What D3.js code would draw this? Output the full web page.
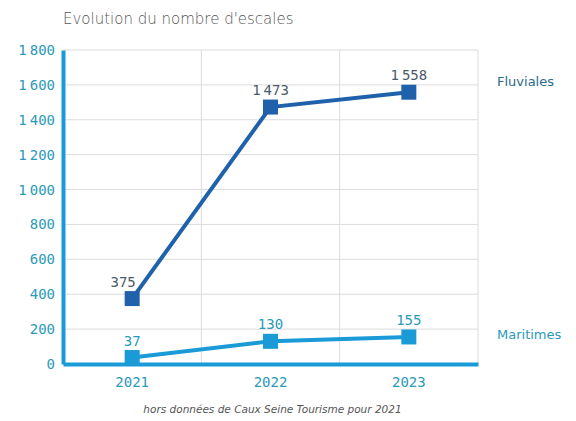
<!DOCTYPE html>
<html>
<head>
<meta charset="utf-8">
<script src="https://cdn.jsdelivr.net/npm/d3@7"></script>
<style>
  body { margin: 0; background: #fff; }
  text { font-family: "DejaVu Sans Mono", monospace; }
</style>
</head>
<body>
<div id="chart"></div>
<script>
// data
let years = ["2021", "2022", "2023"];
let fluviales = [375, 1473, 1558];
let maritimes = [37, 130, 155];
let yTicks = [0, 200, 400, 600, 800, 1000, 1200, 1400, 1600, 1800];
let seriesNames = ["Fluviales", "Maritimes"];

let width = 576, height = 421;
let margin = {top: 50, right: 98, bottom: 57, left: 63};

// french number with a narrow gap between thousands
function setNum(sel) {
  sel.each(function(d) {
    let t = d3.select(this);
    let v = typeof d == "object" ? d.value : d;
    t.text(null);
    if (v >= 1000) {
      t.append("tspan").text(Math.floor(v / 1000));
      t.append("tspan").attr("dx", 3).text(String(v % 1000).padStart(3, "0"));
    } else {
      t.text(v);
    }
  });
}

let svg = d3.select("#chart").append("svg")
  .attr("width", width).attr("height", height);

let x = d3.scaleBand().domain(years).range([margin.left, width - margin.right]);
let y = d3.scaleLinear().domain([0, 1800]).range([height - margin.bottom, margin.top]);

// gridlines
svg.append("g").selectAll("line").data(yTicks.slice(1)).enter().append("line")
  .attr("x1", margin.left).attr("x2", width - margin.right)
  .attr("y1", d => y(d)).attr("y2", d => y(d))
  .attr("stroke", "#dcdcdc").attr("stroke-width", 1);
svg.append("g").selectAll("line").data(years.slice(1).concat(["end"])).enter().append("line")
  .attr("x1", d => d == "end" ? width - margin.right : x(d))
  .attr("x2", d => d == "end" ? width - margin.right : x(d))
  .attr("y1", margin.top).attr("y2", height - margin.bottom)
  .attr("stroke", "#dcdcdc").attr("stroke-width", 1);

// axes
let yAxis = svg.append("g").attr("transform", "translate(" + margin.left + ",0)")
  .call(d3.axisLeft(y).tickValues(yTicks).tickSize(0).tickPadding(8));
yAxis.select(".domain").attr("stroke", "#1a9ad6").attr("stroke-width", 4);
yAxis.selectAll("text").attr("fill", "#2a9ab8").style("font-size", "14px").call(setNum);

let xAxis = svg.append("g").attr("transform", "translate(0," + (height - margin.bottom) + ")")
  .call(d3.axisBottom(x).tickSize(0).tickPadding(13));
xAxis.select(".domain").attr("stroke", "#1a9ad6").attr("stroke-width", 4);
xAxis.selectAll("text").attr("fill", "#2a9ab8").style("font-size", "14px");

// series
let series = [
  {name: seriesNames[0], values: fluviales, color: "#1f62ab", label: "#4a5a6a", legend: "#2a6a8a", dy: -6},
  {name: seriesNames[1], values: maritimes, color: "#1a9ad6", label: "#2a9ab8", legend: "#2a9ab8", dy: 2}
];
let cx = d => x(d) + x.bandwidth() / 2;
let line = d3.line().x(d => cx(d.year)).y(d => y(d.value));
let ms = 15;

series.forEach(s => {
  let pts = years.map((yr, i) => ({year: yr, value: s.values[i]}));
  svg.append("path").datum(pts).attr("d", line)
    .attr("fill", "none").attr("stroke", s.color).attr("stroke-width", 4);
  svg.append("g").selectAll("rect").data(pts).enter().append("rect")
    .attr("x", d => cx(d.year) - ms / 2).attr("y", d => y(d.value) - ms / 2)
    .attr("width", ms).attr("height", ms).attr("fill", s.color);
  svg.append("g").selectAll("text").data(pts).enter().append("text")
    .attr("x", d => cx(d.year) - (d.value == 375 ? 9 : 0)).attr("y", d => y(d.value) - 12)
    .attr("text-anchor", "middle").attr("fill", s.label)
    .style("font-size", "14px").call(setNum);
  svg.append("text")
    .attr("x", width - margin.right + 19)
    .attr("y", y(s.values[s.values.length - 1]) + s.dy)
    .attr("fill", s.legend).style("font-size", "13px")
    .style("font-family", "'DejaVu Sans', sans-serif").text(s.name);
});

// title and note
svg.append("text").attr("x", margin.left).attr("y", 24)
  .attr("fill", "#555").style("font-size", "15px")
  .style("font-family", "'DejaVu Sans', sans-serif").style("font-weight", "300")
  .text("Evolution du nombre d'escales");
svg.append("text").attr("x", (margin.left + width - margin.right) / 2 + 2).attr("y", height - 8)
  .attr("text-anchor", "middle").attr("fill", "#555").style("font-size", "10.5px")
  .style("font-style", "italic").style("font-family", "'DejaVu Sans', sans-serif")
  .text("hors données de Caux Seine Tourisme pour 2021");
</script>
</body>
</html>
